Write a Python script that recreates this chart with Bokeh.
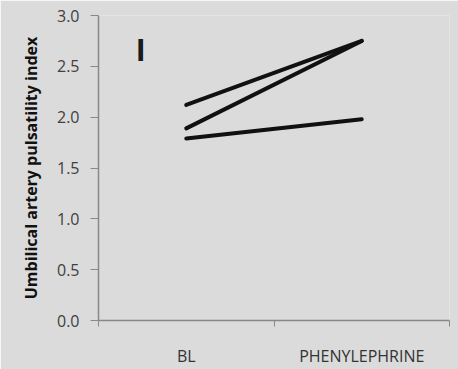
from bokeh.plotting import figure
from bokeh.models import FixedTicker, Range1d, Label, NumeralTickFormatter
from bokeh.embed import file_html
from bokeh.resources import INLINE

categories = ["BL", "PHENYLEPHRINE"]
series = [
    [2.12, 2.75],
    [1.89, 2.75],
    [1.79, 1.98],
]
y_ticks = [0.0, 0.5, 1.0, 1.5, 2.0, 2.5, 3.0]
panel_label = "I"
y_title = "Umbilical artery pulsatility index"

BG = "#dbdbdb"
xs = [i + 0.5 for i in range(len(categories))]

p = figure(width=458, height=369, output_backend="svg", toolbar_location=None,
           x_range=Range1d(0, len(categories)), y_range=Range1d(0, 3.0),
           min_border_left=98, min_border_right=9, min_border_top=15, min_border_bottom=41,
           background_fill_color=BG, border_fill_color=BG, outline_line_color=None)
p.grid.visible = False

for ys in series:
    p.line(xs, ys, line_color="#111111", line_width=4, line_cap="round")

# x axis
xa = p.xaxis[0]
xa.ticker = FixedTicker(ticks=xs, minor_ticks=list(range(len(categories) + 1)))
xa.major_label_overrides = {x: c for x, c in zip(xs, categories)}
xa.major_tick_out = 0
xa.major_tick_in = 0
xa.minor_tick_out = 6
xa.minor_tick_in = 0
xa.minor_tick_line_color = "#888888"
xa.axis_line_color = "#888888"
xa.axis_line_width = 1.5
xa.major_label_standoff = 18
xa.major_label_text_font = "Open Sans"
xa.major_label_text_font_size = "16px"
xa.major_label_text_color = "#333333"

# y axis
ya = p.yaxis[0]
ya.ticker = FixedTicker(ticks=y_ticks)
ya.formatter = NumeralTickFormatter(format="0.0")
ya.major_tick_out = 8
ya.major_tick_in = 0
ya.minor_tick_out = 0
ya.minor_tick_in = 0
ya.major_tick_line_color = "#888888"
ya.axis_line_color = "#888888"
ya.axis_line_width = 1.5
ya.major_label_standoff = 11
ya.major_label_text_font = "Open Sans"
ya.major_label_text_font_size = "16px"
ya.major_label_text_color = "#404040"
ya.axis_label = y_title
ya.axis_label_text_font = "Open Sans"
ya.axis_label_text_font_style = "bold"
ya.axis_label_text_font_size = "16px"
ya.axis_label_text_color = "#111111"
ya.axis_label_standoff = 12

p.add_layout(Label(x=0.24, y=2.66, text=panel_label, text_align="center",
                   text_baseline="middle", text_font="Liberation Sans",
                   text_font_style="bold", text_font_size="32px", text_color="#1a1a1a"))

open("out.html", "w").write(file_html(p, INLINE))
